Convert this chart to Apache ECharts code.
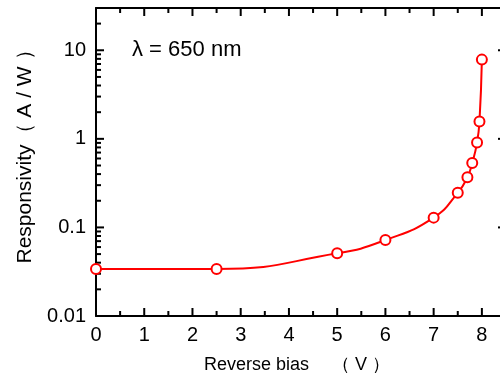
<!DOCTYPE html>
<html>
<head>
<meta charset="utf-8">
<script src="https://cdn.jsdelivr.net/npm/echarts@6/dist/echarts.min.js"></script>
<style>
  html, body { margin: 0; padding: 0; background: #fff; overflow: hidden; }
  #chart { width: 510px; height: 387px; }
</style>
</head>
<body>
<div id="chart"></div>
<script>
// data
const biasV = [0, 2.5, 5, 6, 7, 7.5, 7.7, 7.8, 7.9, 7.95, 8.0]
const responsivity = [0.034, 0.034, 0.051, 0.072, 0.129, 0.246, 0.368, 0.535, 0.908, 1.57, 7.84]
const xTickLabels = [0, 1, 2, 3, 4, 5, 6, 7, 8]
const xMinorTicks = [0.5, 1.5, 2.5, 3.5, 4.5, 5.5, 6.5, 7.5]
const yMajorTicks = [0.01, 0.1, 1, 10]
const yMinorTicks = [
  0.02, 0.03, 0.04, 0.05, 0.06, 0.07, 0.08, 0.09,
  0.2, 0.3, 0.4, 0.5, 0.6, 0.7, 0.8, 0.9,
  2, 3, 4, 5, 6, 7, 8, 9,
  20
]

const RED = '#ff0000'
const FONT = 'Liberation Sans, Arial, sans-serif'
const MAJOR_LEN = 8
const MINOR_LEN = 5

const chart = echarts.init(document.getElementById('chart'))

const axisLineStyle = { color: '#000', width: 2 }

function xAxisCfg (pos, withLabel) {
  return {
    type: 'value',
    position: pos,
    min: 0,
    max: 8.5,
    interval: 1,
    splitLine: { show: false },
    axisLine: { show: true, onZero: false, lineStyle: axisLineStyle },
    axisTick: { show: false },
    axisLabel: withLabel
      ? { show: true, customValues: xTickLabels, fontSize: 20, color: '#000', fontFamily: FONT, margin: 9 }
      : { show: false }
  }
}

function yAxisCfg (pos, withLabel) {
  return {
    type: 'log',
    position: pos,
    min: 0.01,
    max: 30,
    splitLine: { show: false },
    axisLine: { show: true, onZero: false, lineStyle: axisLineStyle },
    axisTick: { show: false },
    axisLabel: withLabel
      ? { show: true, customValues: yMajorTicks, fontSize: 20, color: '#000', fontFamily: FONT, margin: 10,
          formatter: v => String(+v.toPrecision(3)) }
      : { show: false }
  }
}

const xMain = xAxisCfg('bottom', true)
xMain.name = 'Reverse bias 　（ V ）'
xMain.nameLocation = 'middle'
xMain.nameGap = 40
xMain.nameTextStyle = { fontSize: 18, color: '#000', fontFamily: FONT, padding: [0, 8, 0, 0] }

const yMain = yAxisCfg('left', true)
yMain.name = 'Responsivity（ A / W ）'
yMain.nameLocation = 'middle'
yMain.nameGap = 60
yMain.nameTextStyle = { fontSize: 21, color: '#000', fontFamily: FONT, padding: [0, 0, 0, 21] }

// inward ticks on all four sides, placed through the axis scales
// item: [x, y, kind (0 = x tick, 1 = y tick), length]
const tickData = []
xTickLabels.forEach(v => tickData.push([v, 1, 0, MAJOR_LEN]))
xMinorTicks.forEach(v => tickData.push([v, 1, 0, MINOR_LEN]))
yMajorTicks.forEach(v => tickData.push([1, v, 1, MAJOR_LEN]))
yMinorTicks.forEach(v => tickData.push([1, v, 1, MINOR_LEN]))

function renderTick (params, api) {
  const cs = params.coordSys
  const kind = api.value(2)
  const len = api.value(3)
  const style = { stroke: '#000', lineWidth: 2 }
  if (kind === 0) {
    const px = api.coord([api.value(0), 1])[0]
    const bottom = cs.y + cs.height
    return {
      type: 'group',
      children: [
        { type: 'line', shape: { x1: px, y1: bottom, x2: px, y2: bottom - len }, style: style },
        { type: 'line', shape: { x1: px, y1: cs.y, x2: px, y2: cs.y + len }, style: style }
      ]
    }
  }
  const py = api.coord([1, api.value(1)])[1]
  const right = cs.x + cs.width
  return {
    type: 'group',
    children: [
      { type: 'line', shape: { x1: cs.x, y1: py, x2: cs.x + len, y2: py }, style: style },
      { type: 'line', shape: { x1: right, y1: py, x2: right - len, y2: py }, style: style }
    ]
  }
}

const option = {
  animation: false,
  backgroundColor: '#fff',
  grid: { left: 96, right: 4, top: 8, bottom: 71 },
  xAxis: [xMain, xAxisCfg('top', false)],
  yAxis: [yMain, yAxisCfg('right', false)],
  graphic: [
    {
      type: 'text',
      left: 132,
      top: 39,
      style: { text: 'λ = 650 nm', fontSize: 22, fontFamily: FONT, fill: '#000' }
    }
  ],
  series: [
    {
      type: 'custom',
      xAxisIndex: 0,
      yAxisIndex: 0,
      silent: true,
      clip: false,
      z: 1,
      encode: { x: 0, y: 1 },
      renderItem: renderTick,
      data: tickData
    },
    {
      type: 'line',
      xAxisIndex: 0,
      yAxisIndex: 0,
      z: 3,
      data: biasV.map((x, i) => [x, responsivity[i]]),
      smooth: 0.5,
      symbol: 'circle',
      symbolSize: 10,
      showAllSymbol: true,
      lineStyle: { color: RED, width: 2 },
      itemStyle: { color: '#fff', borderColor: RED, borderWidth: 2 }
    }
  ]
}

chart.setOption(option)
</script>
</body>
</html>
